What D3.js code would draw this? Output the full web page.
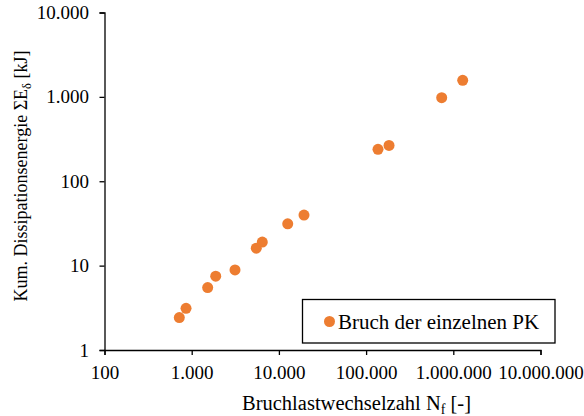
<!DOCTYPE html>
<html><head><meta charset="utf-8">
<script src="https://cdn.jsdelivr.net/npm/d3@7"></script>
<style>body{margin:0;background:#fff}svg{display:block}svg text{font-family:'Liberation Serif','Times New Roman','DejaVu Serif',serif !important;fill:#000}</style>
</head><body><svg id="c" width="584" height="416"></svg>
<script>
const cycles = [721, 861, 1525, 1885, 3138, 5506, 6450, 12620, 19400, 136900, 183200, 736000, 1282000];
const energy = [2.42, 3.12, 5.49, 7.50, 8.90, 16.1, 19.0, 31.3, 39.7, 239, 266, 979, 1573];
const xTicks = [100, 1000, 10000, 100000, 1000000, 10000000];
const yTicks = [1, 10, 100, 1000, 10000];
const seriesName = "Bruch der einzelnen PK";
const color = "#ED7D31";

const fmt = v => d3.format(",")(v).replace(/,/g, ".");
const svg = d3.select("#c");
const x = d3.scaleLog().domain([100, 1e7]).range([104.5, 540.5]);
const y = d3.scaleLog().domain([1, 1e4]).range([350, 12.5]);

const gx = svg.append("g").attr("transform", "translate(0,350)")
  .call(d3.axisBottom(x).tickValues(xTicks).tickFormat(fmt).tickSize(5).tickPadding(10.5));
const gy = svg.append("g").attr("transform", "translate(104.5,0)")
  .call(d3.axisLeft(y).tickValues(yTicks).tickFormat(fmt).tickSize(5).tickPadding(10.5));
[gx, gy].forEach(g => {
  g.attr("font-family", null);
  g.select(".domain").attr("stroke", "#000").attr("stroke-width", 1.3);
  g.selectAll(".tick line").attr("stroke", "#000").attr("stroke-width", 1.3);
  g.selectAll(".tick text").attr("font-size", 19).attr("fill", "#000");
});

svg.append("g").selectAll("circle").data(cycles).join("circle")
  .attr("cx", (d, i) => x(d)).attr("cy", (d, i) => y(energy[i]))
  .attr("r", 5.5).attr("fill", color);

// legend
const lg = svg.append("g");
lg.append("rect").attr("x", 302.5).attr("y", 299.5).attr("width", 252.5).attr("height", 43.5)
  .attr("fill", "#fff").attr("stroke", "#000").attr("stroke-width", 1.3);
lg.append("circle").attr("cx", 329.5).attr("cy", 321.5).attr("r", 5.5).attr("fill", color);
lg.append("text").attr("x", 338).attr("y", 328.5).attr("font-size", 21).text(seriesName);

// x title
const xt = svg.append("text").attr("x", 356.5).attr("y", 409.5).attr("text-anchor", "middle").attr("font-size", 20.5);
xt.append("tspan").text("Bruchlastwechselzahl N");
xt.append("tspan").attr("font-size", 14).attr("dy", 4).text("f");
xt.append("tspan").attr("dy", -4).text(" [-]");

// y title
const yt = svg.append("text").attr("transform", "translate(27,176) rotate(-90)").attr("text-anchor", "middle").attr("font-size", 18);
yt.append("tspan").text("Kum. Dissipationsenergie ΣE");
yt.append("tspan").attr("font-size", 12.5).attr("dy", 4).text("δ");
yt.append("tspan").attr("dy", -4).text(" [kJ]");
</script></body></html>
